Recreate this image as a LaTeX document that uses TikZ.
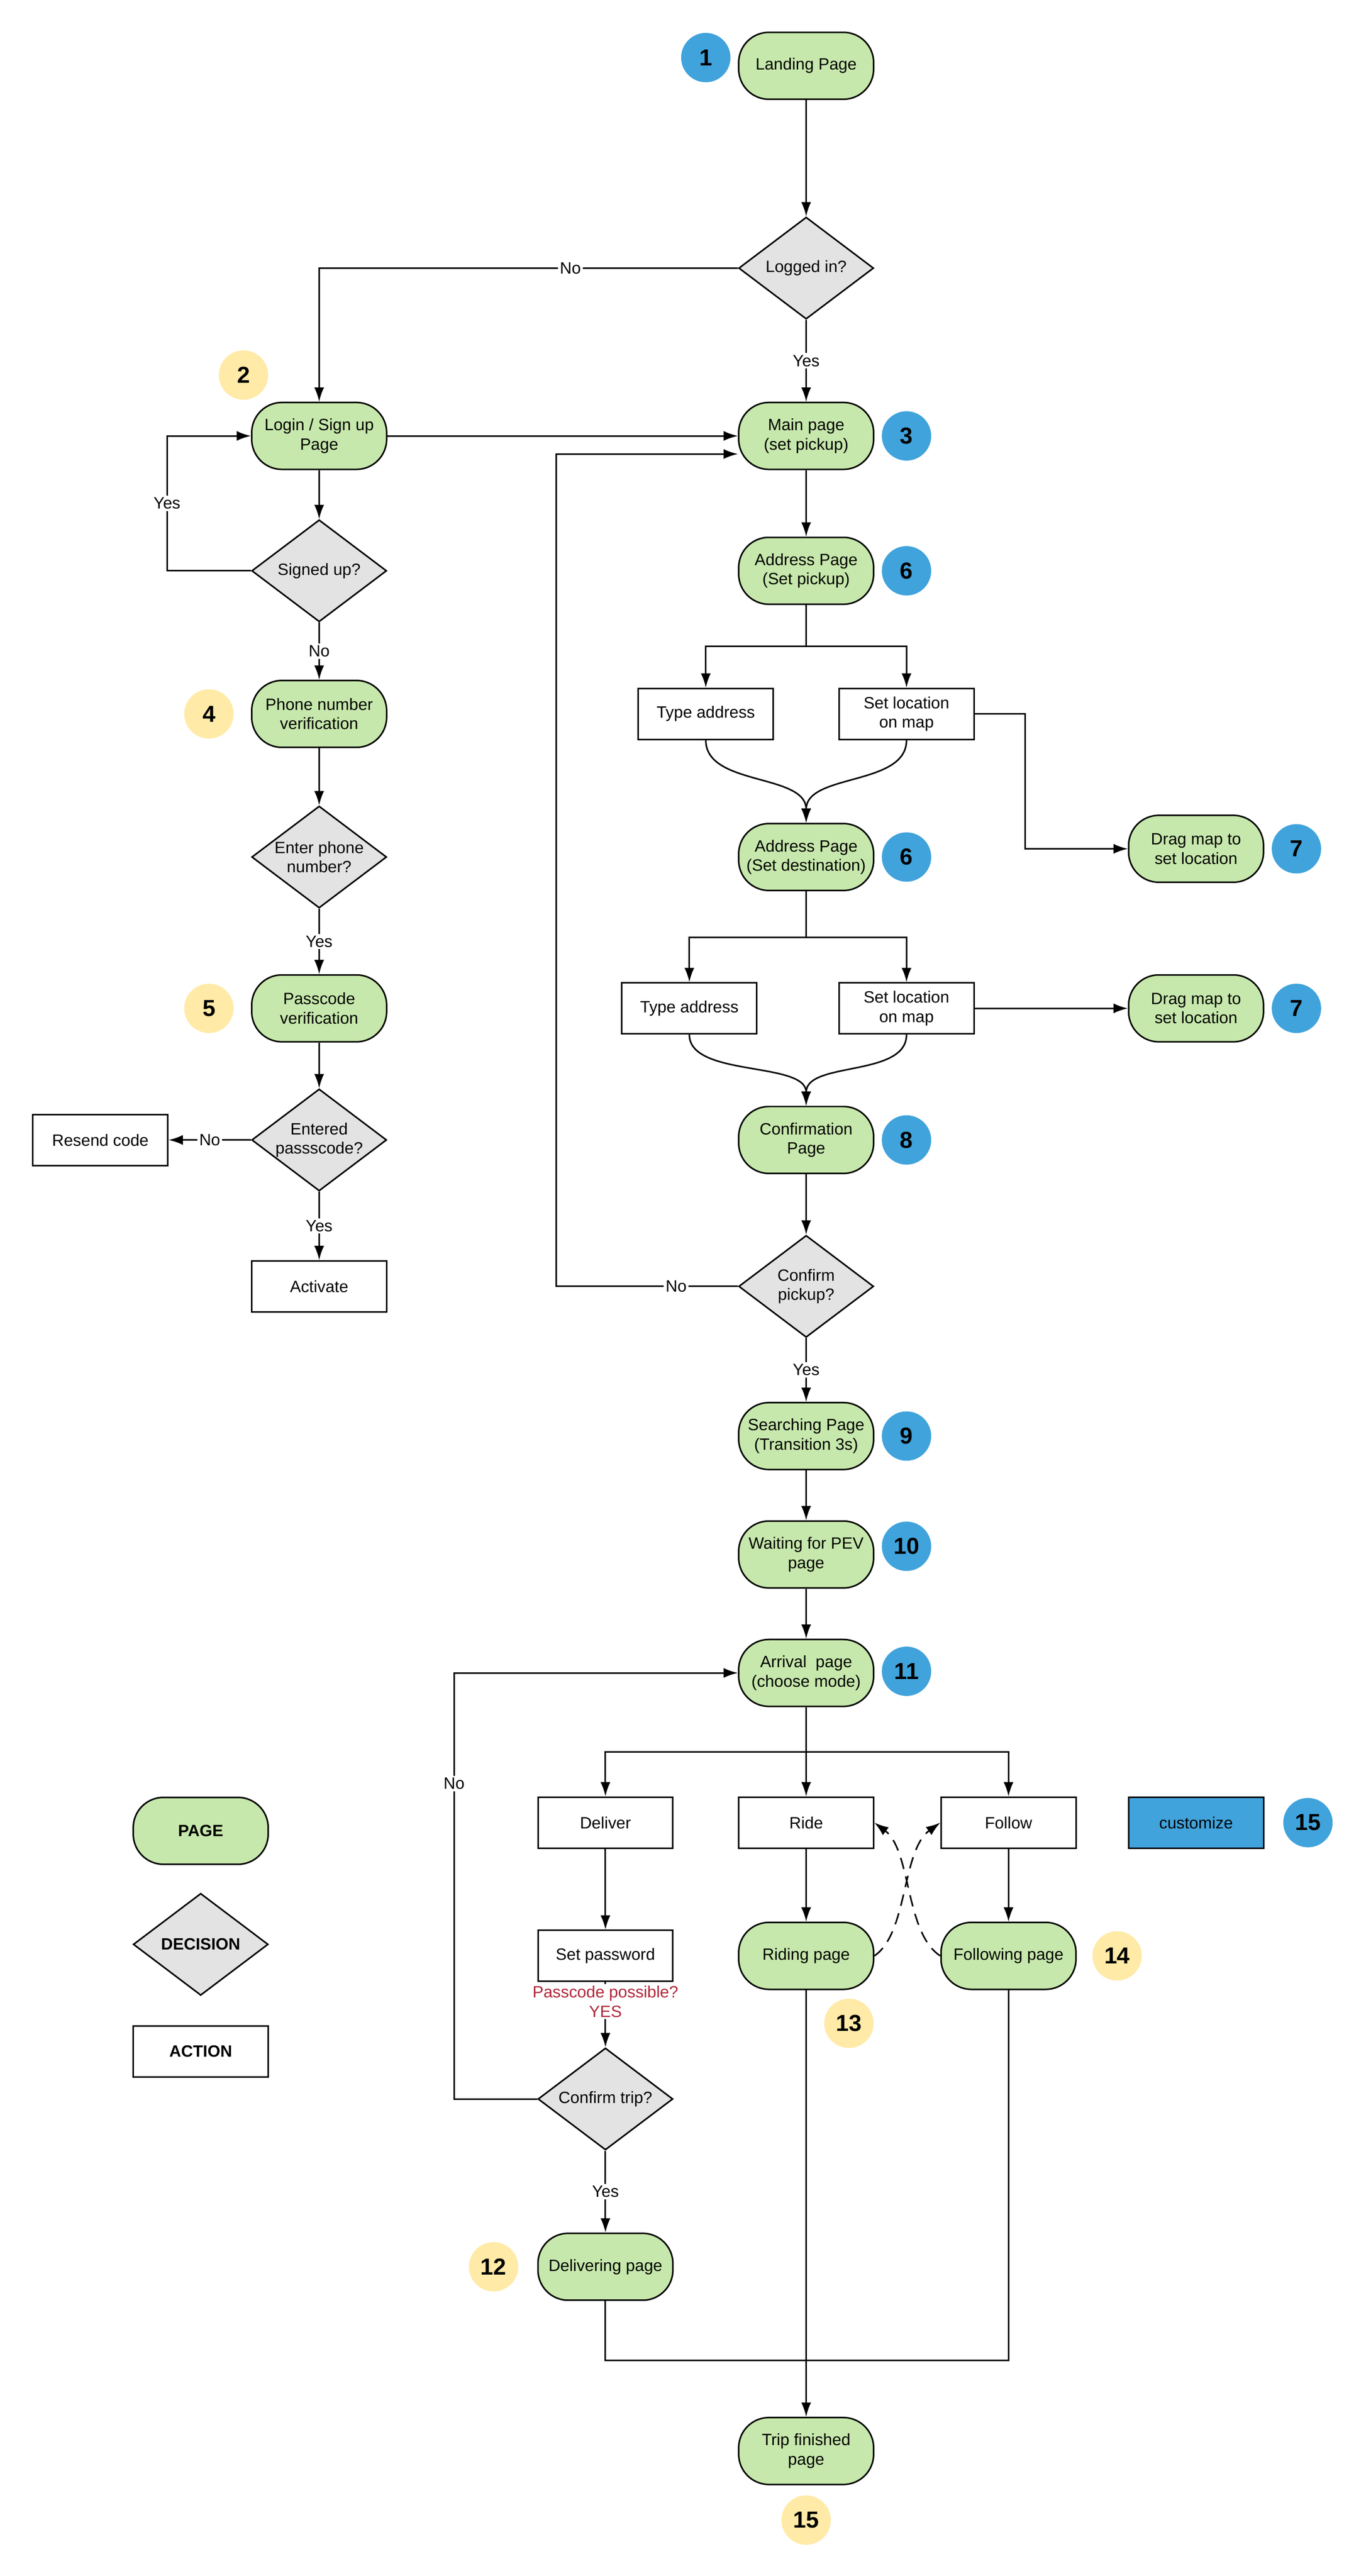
\documentclass[tikz,border=0pt]{standalone}
\usepackage{fontspec}
\setmainfont{Liberation Sans}
\usetikzlibrary{shapes.geometric, arrows.meta, positioning}
\definecolor{pagegreen}{HTML}{C7E8AC}
\definecolor{decgray}{HTML}{E3E3E3}
\definecolor{badgeblue}{HTML}{41A3DC}
\definecolor{badgeyellow}{HTML}{FFEAA7}
\definecolor{notered}{HTML}{B0273A}

\begin{document}
\begin{tikzpicture}[x=0.03cm, y=-0.03cm, font=\fontsize{8.5}{10}\selectfont,
  page/.style={draw, thick, fill=pagegreen, rounded corners=0.55cm, minimum width=2.46cm, minimum height=1.22cm, align=center},
  decision/.style={draw, thick, fill=decgray, diamond, aspect=1.3, inner sep=0pt, minimum width=2.46cm, minimum height=1.86cm, align=center},
  action/.style={draw, thick, fill=white, minimum width=2.46cm, minimum height=0.93cm, align=center},
  blue badge/.style={circle, fill=badgeblue, minimum size=0.9cm, inner sep=0pt, font=\bfseries\fontsize{12}{14}\selectfont},
  yellow badge/.style={circle, fill=badgeyellow, minimum size=0.9cm, inner sep=0pt, font=\bfseries\fontsize{12}{14}\selectfont},
  flow/.style={thick, -{Latex[length=2.6mm,width=1.8mm]}},
  lbl/.style={fill=white, inner sep=1pt}]

\useasboundingbox (0,0) rectangle (830,1566);

% left column
\node[page] (landing) at (490,40) {Landing Page};
\node[blue badge] (b1) at (429,35) {1};
\node[decision] (logged) at (490,163) {Logged in?};
\node[page] (login) at (194,265) {Login / Sign up\\Page};
\node[yellow badge] (b2) at (148,228) {2};
\node[decision] (signed) at (194,347) {Signed up?};
\node[page] (phone) at (194,434) {Phone number\\verification};
\node[yellow badge] (b4) at (127,434) {4};
\node[decision] (enterphone) at (194,521) {Enter phone\\number?};
\node[page] (passcode) at (194,613) {Passcode\\verification};
\node[yellow badge] (b5) at (127,613) {5};
\node[decision] (entered) at (194,693) {Entered\\passscode?};
\node[action] (resend) at (61,693) {Resend code};
\node[action] (activate) at (194,782) {Activate};

% main column
\node[page] (main) at (490,265) {Main page\\(set pickup)};
\node[blue badge] (b3) at (551,265) {3};
\node[page] (addr1) at (490,347) {Address Page\\(Set pickup)};
\node[blue badge] (b6a) at (551,347) {6};
\node[action] (type1) at (429,434) {Type address};
\node[action] (setloc1) at (551,434) {Set location\\on map};
\node[page] (addr2) at (490,521) {Address Page\\(Set destination)};
\node[blue badge] (b6b) at (551,521) {6};
\node[page] (drag1) at (727,516) {Drag map to\\set location};
\node[blue badge] (b7a) at (788,516) {7};
\node[action] (type2) at (419,613) {Type address};
\node[action] (setloc2) at (551,613) {Set location\\on map};
\node[page] (drag2) at (727,613) {Drag map to\\set location};
\node[blue badge] (b7b) at (788,613) {7};
\node[page] (confirm) at (490,693) {Confirmation\\Page};
\node[blue badge] (b8) at (551,693) {8};
\node[decision] (pickup) at (490,782) {Confirm\\pickup?};
\node[page] (search) at (490,873) {Searching Page\\(Transition 3s)};
\node[blue badge] (b9) at (551,873) {9};
\node[page] (waiting) at (490,945) {Waiting for PEV\\page};
\node[blue badge] (b10) at (551,940) {10};
\node[page] (arrival) at (490,1017) {Arrival\ \ page\\(choose mode)};
\node[blue badge] (b11) at (551,1016) {11};

% modes
\node[action] (deliver) at (368,1108) {Deliver};
\node[action] (ride) at (490,1108) {Ride};
\node[action] (follow) at (613,1108) {Follow};
\node[action, fill=badgeblue] (custom) at (727,1108) {customize};
\node[blue badge] (b15a) at (795,1108) {15};
\node[action] (setpass) at (368,1189) {Set password};
\node[page] (riding) at (490,1189) {Riding page};
\node[yellow badge] (b13) at (516,1230) {13};
\node[page] (following) at (613,1189) {Following page};
\node[yellow badge] (b14) at (679,1189) {14};
\node[decision] (trip) at (368,1276) {Confirm trip?};
\node[page] (delivering) at (368,1378) {Delivering page};
\node[yellow badge] (b12) at (300,1378) {12};
\node[page] (finished) at (490,1490) {Trip finished\\page};
\node[yellow badge] (b15b) at (490,1532) {15};

% legend
\node[page] (lpage) at (122,1113) {\textbf{PAGE}};
\node[decision] (ldec) at (122,1182) {\textbf{DECISION}};
\node[action] (lact) at (122,1247) {\textbf{ACTION}};

% connectors
\draw[flow] (landing) -- (logged);
\draw[flow] (logged.west) -| node[lbl, pos=0.2] {No} (login.north);
\draw[flow] (logged) -- node[lbl] {Yes} (main);
\draw[flow] (login) -- (main);
\draw[flow] (login) -- (signed);
\draw[flow] (signed.west) -- ++(-51,0) |- node[lbl, pos=0.25] {Yes} (login.west);
\draw[flow] (signed) -- node[lbl] {No} (phone);
\draw[flow] (phone) -- (enterphone);
\draw[flow] (enterphone) -- node[lbl] {Yes} (passcode);
\draw[flow] (passcode) -- (entered);
\draw[flow] (entered) -- node[lbl] {No} (resend);
\draw[flow] (entered) -- node[lbl] {Yes} (activate);

\draw[flow] (main) -- (addr1);
\coordinate (split1) at (490,393);
\draw[thick] (addr1) -- (split1);
\draw[flow] (split1) -| (type1.north);
\draw[flow] (split1) -| (setloc1.north);
\draw[flow] (type1.south) .. controls (429,478) and (490,470) .. (addr2.north);
\draw[flow] (setloc1.south) .. controls (551,478) and (490,470) .. (addr2.north);
\draw[flow] (setloc1.east) -- (623,434) |- (drag1.west);

\coordinate (split2) at (490,570);
\draw[thick] (addr2) -- (split2);
\draw[flow] (split2) -| (type2.north);
\draw[flow] (split2) -| (setloc2.north);
\draw[flow] (setloc2) -- (drag2);
\draw[flow] (type2.south) .. controls (419,655) and (490,645) .. (confirm.north);
\draw[flow] (setloc2.south) .. controls (551,655) and (490,645) .. (confirm.north);

\draw[flow] (confirm) -- (pickup);
\draw[flow] (pickup.west) -- node[lbl, pos=0.34] {No} (338,782) -- (338,276) -- (main.west |- 0,276);
\draw[flow] (pickup) -- node[lbl] {Yes} (search);
\draw[flow] (search) -- (waiting);
\draw[flow] (waiting) -- (arrival);

\coordinate (split3) at (490,1065);
\draw[thick] (arrival) -- (split3);
\draw[flow] (split3) -| (deliver.north);
\draw[flow] (split3) -- (ride.north);
\draw[flow] (split3) -| (follow.north);
\draw[flow] (deliver) -- (setpass);
\draw[flow] (setpass) -- node[text=notered, fill=white, inner sep=1pt, align=center, pos=0.3] {Passcode possible?\\YES} (trip);
\draw[flow] (trip.west) -- (276,1276) |- node[lbl, pos=0.37] {No} (arrival.west);
\draw[flow] (trip) -- node[lbl] {Yes} (delivering);
\draw[flow] (ride) -- (riding);
\draw[flow] (follow) -- (following);
\draw[flow, dash pattern=on 6pt off 4pt] (riding.east) .. controls (552,1175) and (548,1125) .. (follow.west);
\draw[flow, dash pattern=on 6pt off 4pt] (following.west) .. controls (550,1175) and (554,1125) .. (ride.east);
\draw[flow] (riding) -- (finished);
\draw[thick] (delivering) -- (368,1435) -- (613,1435) -- (following);

\end{tikzpicture}
\end{document}
